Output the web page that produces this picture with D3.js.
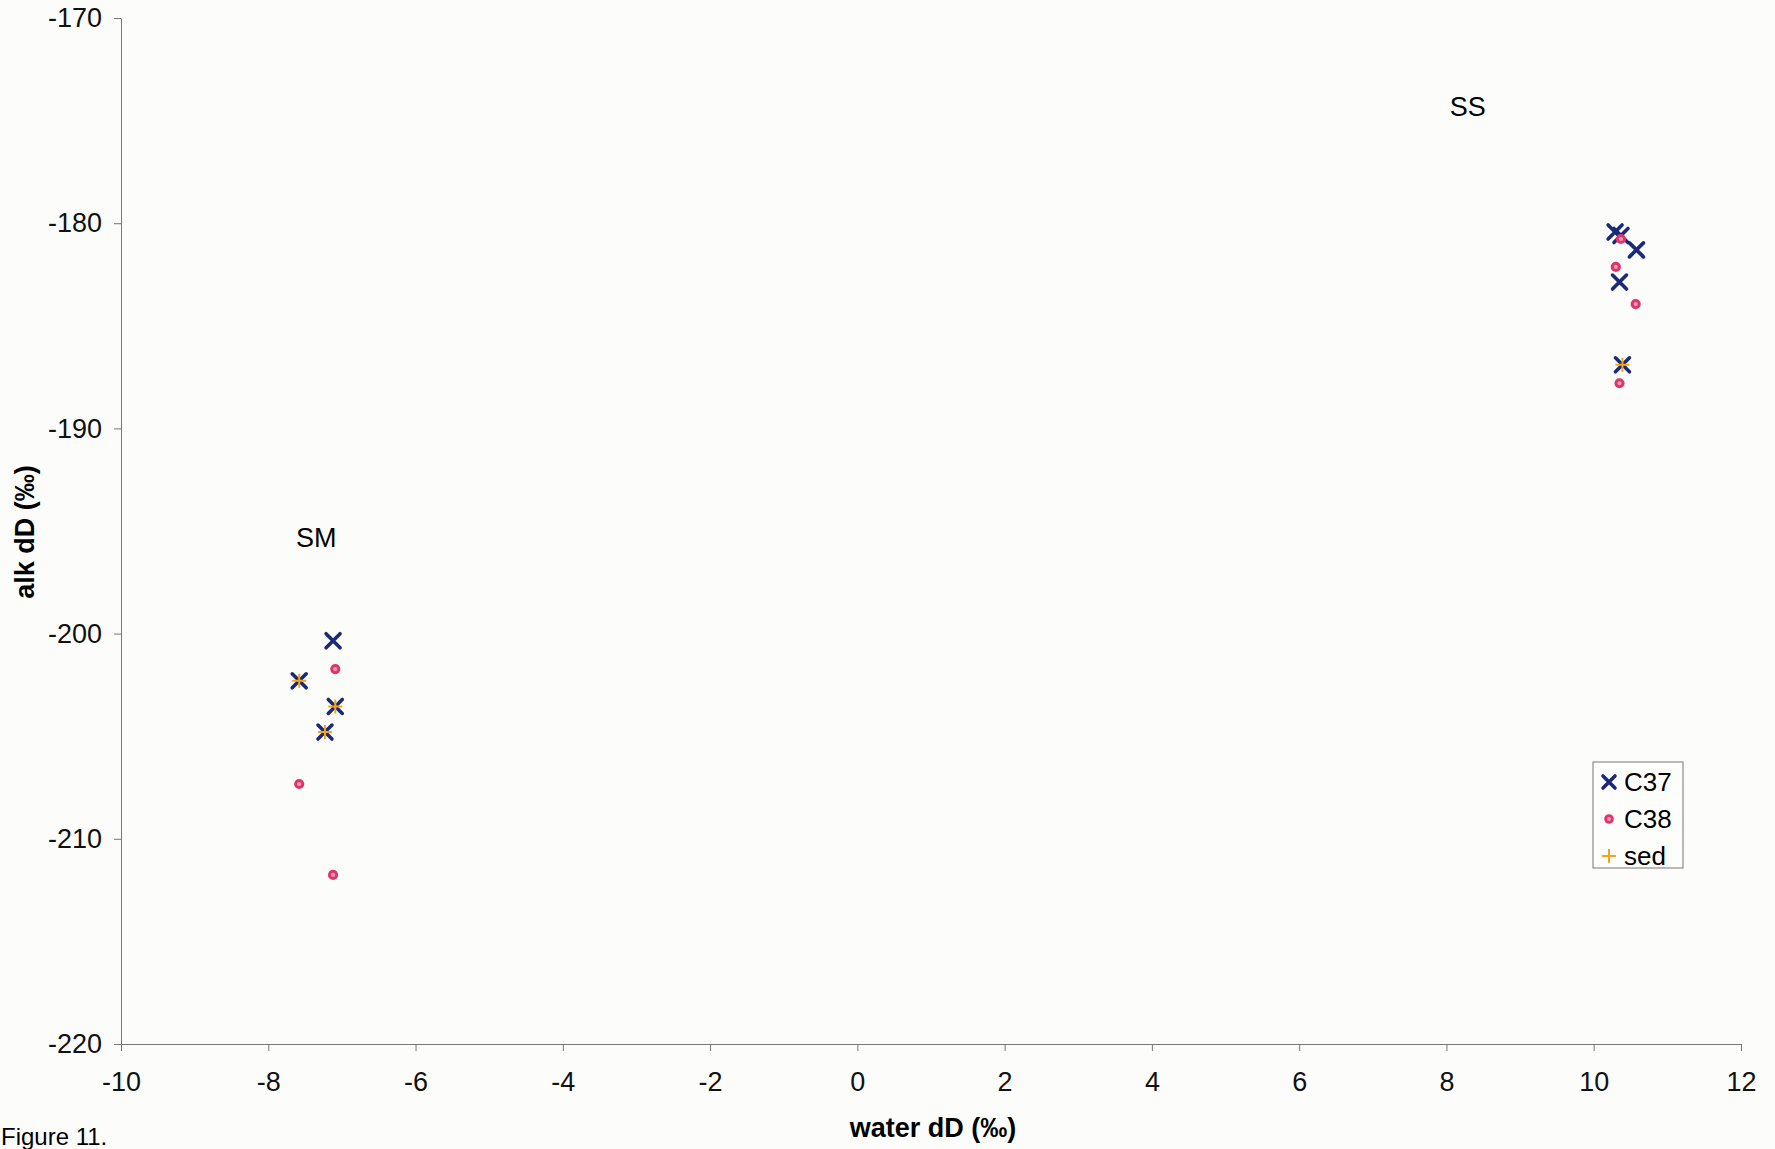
<!DOCTYPE html>
<html lang="en">
<head>
<meta charset="UTF-8">
<title>Figure 11</title>
<script src="https://d3js.org/d3.v7.min.js"></script>
<style>
  body { margin: 0; background: #fcfdfb; }
  svg { display: block; font-family: "Liberation Sans", Arial, sans-serif; }
  .axis path, .axis line { stroke: #777; }
  .axis text { font-size: 27px; fill: #111; }
</style>
</head>
<body>
<svg id="chart" width="1775" height="1149"></svg>
<script>
// data
const c37 = [
  [-7.12, -200.35], [-7.58, -202.3], [-7.09, -203.55], [-7.23, -204.8],
  [10.29, -180.43], [10.37, -180.6], [10.58, -181.3], [10.35, -182.87], [10.39, -186.9]
];
const c38 = [
  [-7.09, -201.73], [-7.58, -207.33], [-7.12, -211.76],
  [10.37, -180.77], [10.30, -182.13], [10.57, -183.94], [10.35, -187.8]
];
const sed = [[-7.58, -202.3], [-7.09, -203.55], [-7.23, -204.8], [10.39, -186.9]];
const siteLabels = [
  { name: "SS", x: 8.29, y: -174.8 },
  { name: "SM", x: -7.35, y: -195.8 }
];
const xTicks = d3.range(-10, 13, 2);
const yTicks = d3.range(-220, -169, 10);

const svg = d3.select("#chart");
const margin = { left: 121, right: 34, top: 18, bottom: 105 };
const W = 1775, H = 1149;

const x = d3.scaleLinear().domain([-10, 12]).range([margin.left, W - margin.right]);
const y = d3.scaleLinear().domain([-220, -170]).range([H - margin.bottom, margin.top]);
const fmt = d => String(d); // plain hyphen-minus like the original

// axes
svg.append("g")
  .attr("class", "axis")
  .attr("transform", `translate(0,${y(-220)})`)
  .call(d3.axisBottom(x).tickValues(xTicks).tickFormat(fmt).tickSize(7).tickSizeOuter(0).tickPadding(21))
  .call(g => g.selectAll("text").attr("dy", "0.71em"));

svg.append("g")
  .attr("class", "axis")
  .attr("transform", `translate(${x(-10)},0)`)
  .call(d3.axisLeft(y).tickValues(yTicks).tickFormat(fmt).tickSize(7).tickSizeOuter(0).tickPadding(12));

// axis titles
svg.append("text")
  .attr("x", 933).attr("y", 1137)
  .attr("text-anchor", "middle")
  .attr("font-size", 27).attr("font-weight", "bold")
  .text("water dD (‰)");

svg.append("text")
  .attr("transform", "translate(34,532) rotate(-90)")
  .attr("text-anchor", "middle")
  .attr("font-size", 27).attr("font-weight", "bold")
  .text("alk dD (‰)");

svg.append("text")
  .attr("x", 1).attr("y", 1145)
  .attr("font-size", 24)
  .text("Figure 11.");

// site labels
svg.selectAll(".site")
  .data(siteLabels)
  .enter().append("text")
  .attr("class", "site")
  .attr("x", d => x(d.x)).attr("y", d => y(d.y))
  .attr("text-anchor", "middle")
  .attr("font-size", 27)
  .text(d => d.name);

// markers
const crossPath = s => `M${-s},${-s}L${s},${s}M${-s},${s}L${s},${-s}`;
const plusPath = s => `M${-s},0L${s},0M0,${-s}L0,${s}`;

svg.selectAll(".c37")
  .data(c37)
  .enter().append("path")
  .attr("class", "c37")
  .attr("transform", d => `translate(${x(d[0])},${y(d[1])})`)
  .attr("d", crossPath(7))
  .attr("stroke", "#1b2a78").attr("stroke-width", 3.6)
  .attr("stroke-linecap", "round").attr("fill", "none");

svg.selectAll(".c38")
  .data(c38)
  .enter().append("circle")
  .attr("class", "c38")
  .attr("cx", d => x(d[0])).attr("cy", d => y(d[1]))
  .attr("r", 3.6)
  .attr("fill", "#f29ab4").attr("stroke", "#e0356a").attr("stroke-width", 3);

svg.selectAll(".sed")
  .data(sed)
  .enter().append("path")
  .attr("class", "sed")
  .attr("transform", d => `translate(${x(d[0])},${y(d[1])})`)
  .attr("d", plusPath(7))
  .attr("stroke", "#f4a418").attr("stroke-width", 2)
  .attr("fill", "none");

// legend
const legend = svg.append("g").attr("transform", "translate(1593,762)");
legend.append("rect")
  .attr("width", 90).attr("height", 106)
  .attr("fill", "#fdfefc").attr("stroke", "#777").attr("stroke-width", 1);

const legendItems = ["C37", "C38", "sed"];
legendItems.forEach((name, i) => {
  const g = legend.append("g").attr("transform", `translate(16,${20 + i * 37})`);
  if (name === "C37") {
    g.append("path").attr("d", crossPath(6))
      .attr("stroke", "#1b2a78").attr("stroke-width", 3.6).attr("stroke-linecap", "round");
  } else if (name === "C38") {
    g.append("circle").attr("r", 3.4)
      .attr("fill", "#f29ab4").attr("stroke", "#e0356a").attr("stroke-width", 2.8);
  } else {
    g.append("path").attr("d", plusPath(7))
      .attr("stroke", "#f4a418").attr("stroke-width", 2);
  }
  g.append("text")
    .attr("x", 15).attr("y", 9)
    .attr("font-size", 26)
    .text(name);
});
</script>
</body>
</html>
